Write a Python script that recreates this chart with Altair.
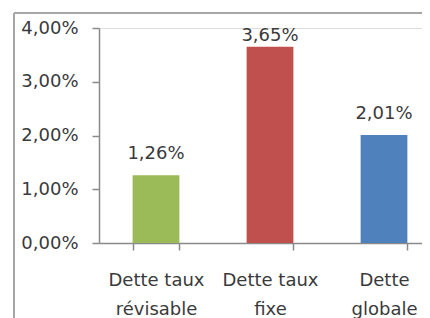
import altair as alt
import pandas as pd

categories = ["Dette taux|révisable", "Dette taux|fixe", "Dette|globale"]
values = [0.0126, 0.0365, 0.0201]
colors = ["#9BBB59", "#C0504D", "#4F81BD"]
y_ticks = [0.0, 0.01, 0.02, 0.03, 0.04]

df = pd.DataFrame({"cat": categories, "v": values, "col": colors})

FONT = "DejaVu Sans"
TXT = "#3a3a3a"
AX = "#8a8a8a"

xs = alt.X("cat:N", sort=categories,
           scale=alt.Scale(range=[0, 342], paddingInner=0.59, paddingOuter=0.295),
           axis=alt.Axis(title=None, labelAngle=0, labelExpr="split(datum.label, '|')",
                         labelFont=FONT, labelFontSize=18, labelColor=TXT,
                         labelLineHeight=29, labelPadding=21, labelBaseline="top",
                         tickBand="extent", tickSize=7, tickColor=AX, domainColor=AX,
                         domainWidth=1.5, tickWidth=1.5, grid=False, labelOverlap=False))
ys = alt.Y("v:Q",
           scale=alt.Scale(domain=[0, 0.04], nice=False),
           axis=alt.Axis(title=None, values=y_ticks,
                         labelExpr="replace(format(datum.value, '.2%'), '.', ',')",
                         labelFont=FONT, labelFontSize=18, labelColor=TXT,
                         labelPadding=14, tickSize=7, tickColor=AX, domainColor=AX,
                         domainWidth=1.5, tickWidth=1.5, grid=False))

base = alt.Chart(df)
bars = base.mark_bar().encode(x=xs, y=ys, color=alt.Color("col:N", scale=None))
labels = base.transform_calculate(
    txt="replace(format(datum.v, '.2%'), '.', ',')",
    ly="min(datum.v + 0.003, 0.0375)",
).mark_text(font=FONT, fontSize=18, color=TXT, baseline="alphabetic").encode(
    x=alt.X("cat:N", sort=categories), y=alt.Y("ly:Q"), text="txt:N")

border_h = alt.Chart(df).mark_rule(color="#a6a6a6", strokeWidth=2).encode(
    x=alt.value(-85), x2=alt.value(400), y=alt.value(-15))
border_v = alt.Chart(df).mark_rule(color="#a6a6a6", strokeWidth=2).encode(
    x=alt.value(-85), y=alt.value(-15), y2=alt.value(400))

chart = alt.layer(bars, labels, border_h, border_v).properties(
    width=323, height=215,
    autosize=alt.AutoSizeParams(type="none"),
    padding={"left": 91, "top": 20, "right": 0, "bottom": 75},
).configure_view(stroke=None).configure(background="white")

chart.save("out.html", embed_options={"renderer": "svg", "actions": False})
